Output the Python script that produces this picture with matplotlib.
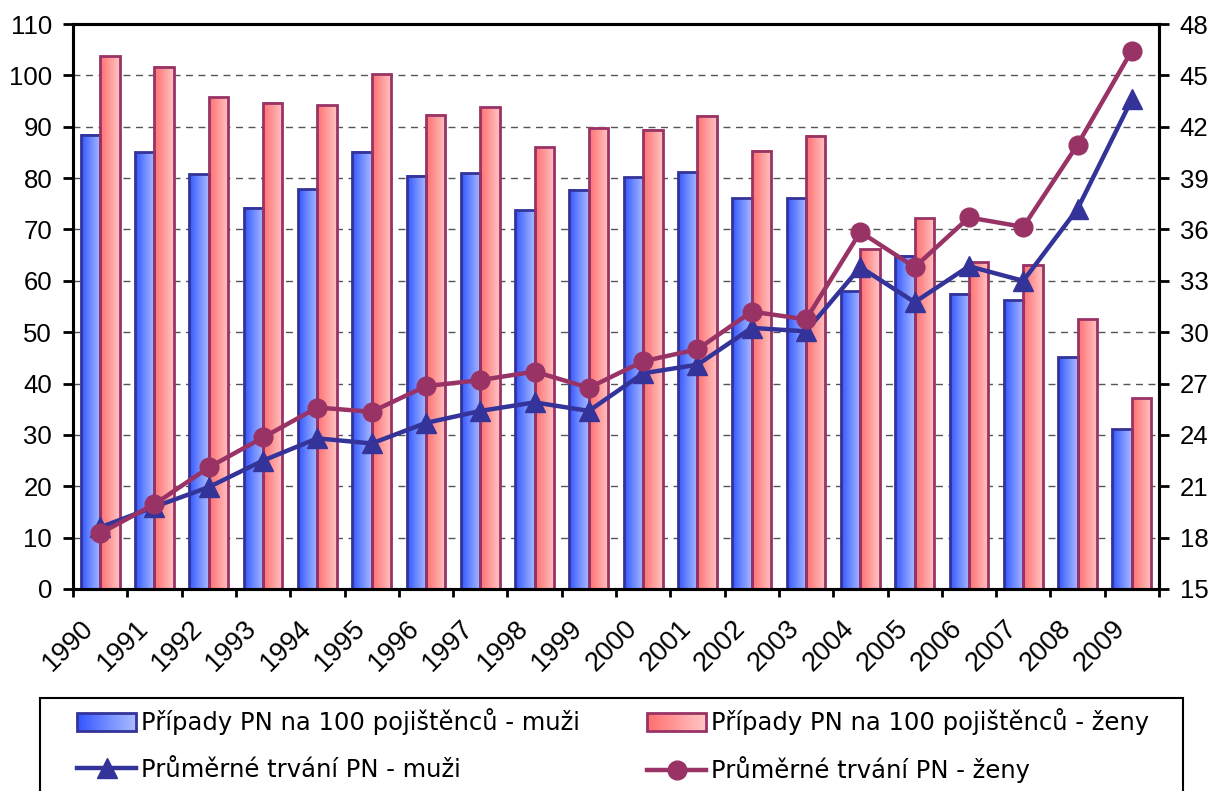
import numpy as np
import matplotlib
matplotlib.use('Agg')
import matplotlib.pyplot as plt
from matplotlib.colors import LinearSegmentedColormap
from matplotlib.patches import Rectangle
from matplotlib.legend_handler import HandlerBase
from matplotlib.lines import Line2D
import matplotlib.transforms as mtransforms

plt.rcParams['font.family'] = ['Liberation Sans', 'DejaVu Sans']

years = [str(y) for y in range(1990, 2010)]
pripady_muzi = [88.4, 85.0, 80.7, 74.2, 77.8, 85.1, 80.5, 80.9, 73.7, 77.7,
                80.2, 81.1, 76.1, 76.1, 58.0, 64.9, 57.5, 56.2, 45.1, 31.1]
pripady_zeny = [103.7, 101.7, 95.7, 94.7, 94.2, 100.2, 92.3, 93.8, 86.0, 89.8,
                89.4, 92.1, 85.3, 88.2, 66.1, 72.2, 63.6, 63.1, 52.5, 37.1]
trvani_muzi = [18.6, 19.8, 20.95, 22.5, 23.8, 23.5, 24.7, 25.4, 25.9, 25.4,
               27.6, 28.1, 30.25, 30.05, 33.8, 31.75, 33.85, 33.0, 37.2, 43.6]
trvani_zeny = [18.25, 19.95, 22.1, 23.85, 25.6, 25.35, 26.85, 27.2, 27.7, 26.75,
               28.3, 29.0, 31.2, 30.75, 35.85, 33.8, 36.7, 36.15, 40.95, 46.45]
left_ticks = list(range(0, 111, 10))
right_ticks = list(range(15, 49, 3))

labels = ['Případy PN na 100 pojištěnců - muži',
          'Případy PN na 100 pojištěnců - ženy',
          'Průměrné trvání PN - muži',
          'Průměrné trvání PN - ženy']

blue_edge = '#333399'
pink_edge = '#993366'
blue_cmap = LinearSegmentedColormap.from_list('b', ['#3355ff', '#6f8bff', '#a8b8ff'])
pink_cmap = LinearSegmentedColormap.from_list('p', ['#ff6f6f', '#ff9a9a', '#ffc4c4'])

W, H = 1209, 791
fig = plt.figure(figsize=(W / 100, H / 100), dpi=100)
L, R, T, B = 73, 1159, 24, 589
ax = fig.add_axes([L / W, 1 - B / H, (R - L) / W, (B - T) / H])
ax2 = ax.twinx()

x = np.arange(len(years))
bw = 0.357
bars_m = ax.bar(x - bw, pripady_muzi, width=bw, align='edge', facecolor='none',
                edgecolor=blue_edge, linewidth=2, zorder=3)
bars_z = ax.bar(x, pripady_zeny, width=bw, align='edge', facecolor='none',
                edgecolor=pink_edge, linewidth=2, zorder=3)
grad = np.linspace(0, 1, 64).reshape(1, -1)
for bars, cmap in ((bars_m, blue_cmap), (bars_z, pink_cmap)):
    for p in bars:
        x0, y0 = p.get_xy()
        ax.imshow(grad, extent=(x0, x0 + p.get_width(), y0, y0 + p.get_height()),
                  aspect='auto', cmap=cmap, zorder=2, interpolation='bilinear')

ax.set_xlim(-0.5, len(years) - 0.5)
ax.set_ylim(0, 110)
ax.set_yticks(left_ticks)
ax.set_axisbelow(True)
ax.yaxis.grid(True, linestyle=(0, (5, 4)), color='#555555', linewidth=1)

ax2.plot(x, trvani_muzi, color=blue_edge, lw=3.2, marker='^', markersize=14, zorder=4)
ax2.plot(x, trvani_zeny, color=pink_edge, lw=3.2, marker='o', markersize=13.5, zorder=5)
ax2.set_ylim(15, 48)
ax2.set_yticks(right_ticks)
ax2.set_xlim(-0.5, len(years) - 0.5)

for a in (ax, ax2):
    for s in a.spines.values():
        s.set_linewidth(2.2)
        s.set_color('black')

ax.tick_params(axis='y', direction='out', length=7, width=2, labelsize=18.5, pad=8)
ax2.tick_params(axis='y', direction='out', length=7, width=2, labelsize=18.5, pad=8)

ax.set_xticks(np.arange(-0.5, len(years), 1))
ax.set_xticklabels([])
ax.tick_params(axis='x', which='major', direction='out', length=6, width=2)
ax.set_xticks(x, labels=years, minor=True)
ax.tick_params(axis='x', which='minor', length=0, pad=19, labelsize=19.5, labelrotation=45)
off = mtransforms.ScaledTranslation(-0.01, 0, fig.dpi_scale_trans)
for lab in ax.get_xticklabels(minor=True):
    lab.set_ha('right')
    lab.set_va('top')
    lab.set_transform(lab.get_transform() + off)


class GradientHandler(HandlerBase):
    def __init__(self, cmap, edge):
        super().__init__()
        self.cmap = cmap
        self.edge = edge

    def create_artists(self, legend, orig_handle, xdescent, ydescent, width,
                       height, fontsize, trans):
        arts = []
        n = 30
        x0, y0 = -xdescent, -ydescent
        for i in range(n):
            arts.append(Rectangle((x0 + width * i / n, y0), width / n * 1.1, height,
                                  facecolor=self.cmap(i / (n - 1)), edgecolor='none',
                                  transform=trans))
        arts.append(Rectangle((x0, y0), width, height, facecolor='none',
                              edgecolor=self.edge, lw=2, transform=trans))
        return arts


h_bm = Rectangle((0, 0), 1, 1)
h_bz = Rectangle((0, 0), 1, 1)
h_lm = Line2D([], [], color=blue_edge, lw=3.2, marker='^', markersize=14)
h_lz = Line2D([], [], color=pink_edge, lw=3.2, marker='o', markersize=13.5)
hmap = {h_bm: GradientHandler(blue_cmap, blue_edge),
        h_bz: GradientHandler(pink_cmap, pink_edge)}
entries = [(h_bm, labels[0], 77, 722), (h_bz, labels[1], 647, 722),
           (h_lm, labels[2], 77, 770), (h_lz, labels[3], 647, 770)]
for h, lbl, px, py in entries:
    fig.legend([h], [lbl], handler_map=hmap, loc='center left',
               bbox_to_anchor=(px / W, 1 - py / H), frameon=False,
               prop={'family': 'DejaVu Sans', 'size': 17.5},
               borderpad=0, borderaxespad=0,
               handlelength=2.43, handleheight=0.78, handletextpad=0.2)

fig.patches.append(Rectangle((40 / W, -0.05), (1183 - 40) / W, (1 - 698 / H) + 0.05,
                             transform=fig.transFigure, fill=False,
                             edgecolor='black', lw=1.5))

fig.savefig('out.png', dpi=100)
